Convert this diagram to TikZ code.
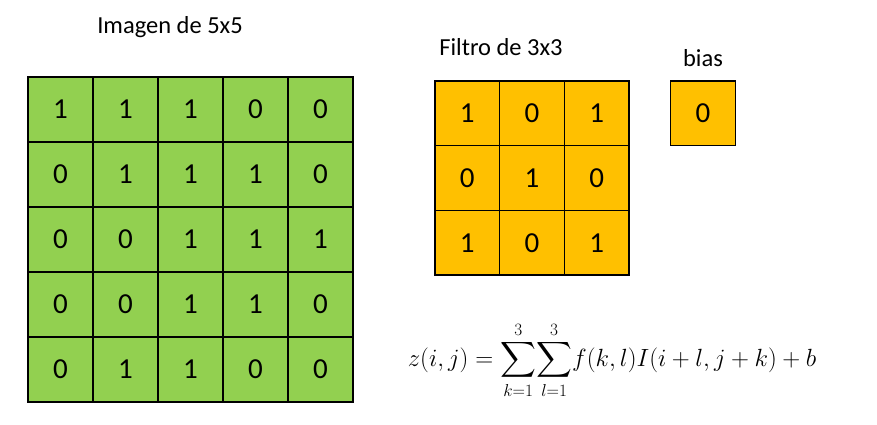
\documentclass[tikz,border=0pt]{standalone}
\usepackage{fontspec}
\setmainfont{Carlito}
\usepackage{amsmath}
\usetikzlibrary{positioning}
\definecolor{imggreen}{HTML}{92D050}
\definecolor{filorange}{HTML}{FFC000}

\begin{document}
\begin{tikzpicture}[x=1pt, y=-1pt,
  pix/.style={draw, line width=1.2pt, minimum size=65pt, inner sep=0pt, fill=imggreen, font=\fontsize{29}{32}\selectfont},
  wgt/.style={pix, fill=filorange, minimum size=64.7pt},
  ttl/.style={draw=none, font=\fontsize{24.5}{28}\selectfont, inner sep=0pt}
]
  \useasboundingbox (0,0) rectangle (877,424);
  % input image 5x5
  \foreach \row [count=\r] in {{1,1,1,0,0},{0,1,1,1,0},{0,0,1,1,1},{0,0,1,1,0},{0,1,1,0,0}}
    \foreach \v [count=\c] in \row
      \node[pix] (img-\r-\c) at ({60.5+65*(\c-1)}, {109.5+65*(\r-1)}) {\v};
  % filter 3x3
  \foreach \row [count=\r] in {{1,0,1},{0,1,0},{1,0,1}}
    \foreach \v [count=\c] in \row
      \node[wgt] (fil-\r-\c) at ({467.3+64.7*(\c-1)}, {113.3+64.7*(\r-1)}) {\v};
  \node[wgt] (bias) at (703, 113.3) {0};
  % titles
  \node[ttl] (img-title) at (170, 27) {Imagen de 5x5};
  \node[ttl] (fil-title) at (501, 47) {Filtro de 3x3};
  \node[ttl, above=13pt of bias] (bias-title) {bias};
  % formula
  \node[draw=none, font=\fontsize{23.5}{27}\selectfont] (formula) at (612, 360)
    {$\displaystyle z(i,j)=\sum_{k=1}^{3}\!\sum_{l=1}^{3}\! f(k,l)I(i+l,j+k)+b$};
\end{tikzpicture}
\end{document}
